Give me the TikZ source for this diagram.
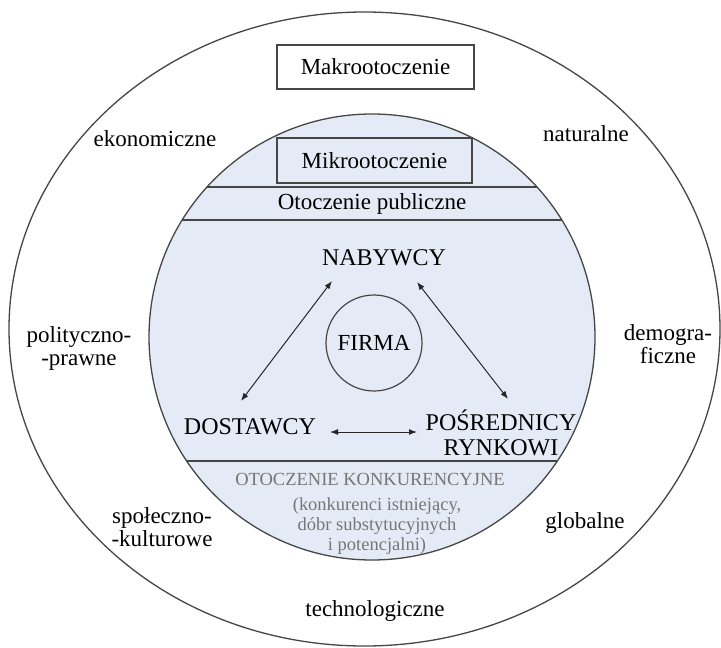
\documentclass[tikz,border=0pt]{standalone}
\usepackage{fontspec}
\setmainfont{Liberation Serif}
\usetikzlibrary{arrows.meta}
\definecolor{innerfill}{RGB}{229,235,246}
\definecolor{edge}{RGB}{70,70,70}
\definecolor{softtext}{RGB}{118,118,118}
\begin{document}
\begin{tikzpicture}[x=1pt,y=-1pt,
  ring/.style={draw=edge,line width=1.3pt},
  chord/.style={draw=edge,line width=1.8pt},
  frame/.style={draw=edge,line width=1.4pt,inner sep=0pt,
    font=\fontsize{23}{23}\selectfont},
  lbl/.style={font=\fontsize{23}{23}\selectfont,inner sep=1pt,align=center},
  caps/.style={font=\fontsize{24}{25}\selectfont,inner sep=1pt,align=center},
  soft/.style={font=\fontsize{18.5}{20}\selectfont,text=softtext,inner sep=1pt,align=center},
  biarrow/.style={{Latex[length=8pt,width=6pt]}-{Latex[length=8pt,width=6pt]},
    line width=1pt,draw=black!85}
]
\useasboundingbox (0,0) rectangle (721,648);
\fill[white] (0,0) rectangle (721,648);

% outer ring: macro-environment
\draw[ring] (364.5,329) ellipse [x radius=355.5pt, y radius=317pt];

% inner disc: micro-environment
\filldraw[ring,fill=innerfill] (372,337) circle [radius=223pt];
\begin{scope}
  \clip (372,337) circle [radius=223pt];
  \draw[chord] (120,187) -- (630,187);
  \draw[chord] (120,220) -- (630,220);
  \draw[chord] (120,461) -- (630,461);
\end{scope}

% headings
\node[frame,fill=white,minimum width=197pt,minimum height=44pt] (makro) at (375.5,67) {Makrootoczenie};
\node[frame,fill=innerfill,minimum width=195pt,minimum height=45pt] (mikro) at (374.5,160.5) {Mikrootoczenie};
\node[lbl] (publ) at (372,204) {Otoczenie publiczne};

% macro-environment factors
\node[lbl] (ekon) at (155,139) {ekonomiczne};
\node[lbl] (natur) at (586,134) {naturalne};
\node[lbl] (polit) at (79,348) {polityczno-\\-prawne};
\node[lbl] (demo) at (668,344) {demogra-\\ficzne};
\node[lbl] (spol) at (162,527) {społeczno-\\-kulturowe};
\node[lbl] (glob) at (585,523) {globalne};
\node[lbl] (tech) at (375,611) {technologiczne};

% market participants around the firm
\node[caps] (nab) at (384,258) {NABYWCY};
\node[draw=edge,circle,line width=1.2pt,minimum size=96pt,inner sep=0pt,
  font=\fontsize{23}{23}\selectfont] (firma) at (374,343) {FIRMA};
\node[caps] (dost) at (250,427) {DOSTAWCY};
\node[caps] (posr) at (501,433) {POŚREDNICY\\RYNKOWI};

% competitive environment
\node[soft] (konk) at (370,479) {OTOCZENIE KONKURENCYJNE};
\node[soft] (konkdesc) at (377,526) {(konkurenci istniejący,\\dóbr substytucyjnych\\i potencjalni)};

% relations
\draw[biarrow] ([shift={(-52,23)}]nab.center) -- ([shift={(-9,-26)}]dost.center);
\draw[biarrow] ([shift={(33,24)}]nab.center) -- ([shift={(7,-34)}]posr.center);
\draw[biarrow] ([shift={(80,5)}]dost.center) -- ([shift={(-84,-1)}]posr.center);
\end{tikzpicture}
\end{document}
